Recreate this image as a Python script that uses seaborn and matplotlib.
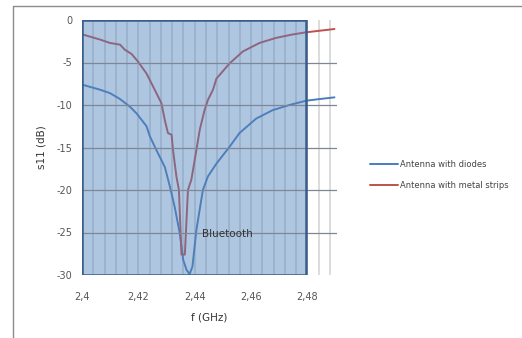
import numpy as np
import pandas as pd
import matplotlib
matplotlib.use("Agg")
import matplotlib.pyplot as plt
import seaborn as sns
from matplotlib.patches import Rectangle
from matplotlib.lines import Line2D

# --- data ---
f_diodes = [2.4000, 2.4064, 2.4099, 2.4135, 2.4170, 2.4194, 2.4229, 2.4241, 2.4264,
            2.4294, 2.4312, 2.4329, 2.4347, 2.4359, 2.4371, 2.4382, 2.4392, 2.4406,
            2.4429, 2.4447, 2.4477, 2.4524, 2.4559, 2.4618, 2.4677, 2.4736, 2.4795,
            2.4843, 2.4896]
s11_diodes = [-7.6, -8.2, -8.6, -9.3, -10.2, -11.0, -12.5, -13.7, -15.3,
              -17.3, -19.6, -22.0, -25.1, -28.2, -29.4, -29.9, -29.0, -24.7,
              -20.0, -18.4, -16.9, -14.9, -13.3, -11.6, -10.6, -10.0, -9.5,
              -9.3, -9.1]

f_strips = [2.4002, 2.4064, 2.4099, 2.4135, 2.4152, 2.4176, 2.4199, 2.4229, 2.4258,
            2.4282, 2.4294, 2.4305, 2.4318, 2.4323, 2.4335, 2.4344, 2.4353, 2.4365,
            2.4376, 2.4388, 2.4406, 2.4418, 2.4435, 2.4447, 2.4465, 2.4477, 2.4524,
            2.4571, 2.4630, 2.4689, 2.4748, 2.4795, 2.4896]
s11_strips = [-1.7, -2.3, -2.7, -2.9, -3.5, -4.0, -4.9, -6.3, -8.2,
              -9.8, -11.8, -13.3, -13.5, -15.3, -18.4, -20.0, -27.6, -27.6,
              -20.0, -18.8, -15.3, -12.9, -10.6, -9.4, -8.2, -6.9, -5.1,
              -3.7, -2.7, -2.1, -1.7, -1.45, -1.06]

series_names = ["Antenna with diodes", "Antenna with metal strips"]
series_colors = ["#4a7ebb", "#c0504d"]
x_ticks = [2.40, 2.42, 2.44, 2.46, 2.48]
x_tick_labels = ["2,4", "2,42", "2,44", "2,46", "2,48"]
y_ticks = [0, -5, -10, -15, -20, -25, -30]
band = (2.4, 2.4795)

df = pd.concat([
    pd.DataFrame({"f": f_diodes, "s11": s11_diodes, "series": series_names[0]}),
    pd.DataFrame({"f": f_strips, "s11": s11_strips, "series": series_names[1]}),
])

sns.set_style("white")
plt.rcParams["font.family"] = ["DejaVu Sans"]
plt.rcParams["axes.unicode_minus"] = False

fig = plt.figure(figsize=(5.22, 3.38), dpi=100)
# outer chart frame
fig.add_artist(Line2D([13/522, 13/522], [0, 1 - 6/338], color="#8c8c8c", lw=1.0))
fig.add_artist(Line2D([13/522, 1], [1 - 6/338, 1 - 6/338], color="#8c8c8c", lw=1.0))

ax = fig.add_axes([82/522, 1 - 275/338, 255/522, 255/338])

# vertical light grid lines
for xv in np.arange(2.404, 2.4895, 0.004):
    ax.axvline(xv, color="#dcdcdc", lw=1.4, zorder=0.5)

sns.lineplot(data=df, x="f", y="s11", hue="series", palette=series_colors,
             sort=False, estimator=None, lw=1.4, ax=ax, legend=False, zorder=2)

# translucent band overlay
ax.add_patch(Rectangle((band[0], -30), band[1] - band[0], 30,
                       facecolor="#4f81bd", alpha=0.45, edgecolor="none", zorder=3))
ax.add_patch(Rectangle((band[0], -30), band[1] - band[0], 30,
                       facecolor="none", edgecolor="#385d8a", lw=1.8, zorder=5))

for yv in [-5, -10, -15, -20, -25]:
    ax.axhline(yv, color="#7f8696", lw=0.9, zorder=4)

ax.set_xlim(2.4, 2.4905)
ax.set_ylim(-30, 0)
ax.set_xticks(x_ticks)
ax.set_xticklabels(x_tick_labels)
ax.set_yticks(y_ticks)
for s in ax.spines.values():
    s.set_visible(False)
ax.tick_params(axis="both", labelsize=7, colors="#8c8c8c", labelcolor="#555555",
               length=4, width=0.8, direction="out", pad=3)
ax.tick_params(axis="x", pad=8)
ax.set_xlabel("f (GHz)", fontsize=7.5, color="#333333", labelpad=8)
ax.set_ylabel("s11 (dB)", fontsize=7.5, color="#333333", labelpad=7)

ax.text(2.4517, -25.2, "Bluetooth", fontsize=7.5, color="#333333",
        ha="center", va="center", zorder=6)

handles = [Line2D([], [], color=c, lw=1.4) for c in series_colors]
fig.legend(handles, series_names, loc="center left",
           bbox_to_anchor=(362/522, 1 - 175/338), frameon=False,
           fontsize=6, handlelength=3.4, handletextpad=0.2, labelspacing=1.5,
           labelcolor="#444444")

fig.savefig("out.png", dpi=100)
